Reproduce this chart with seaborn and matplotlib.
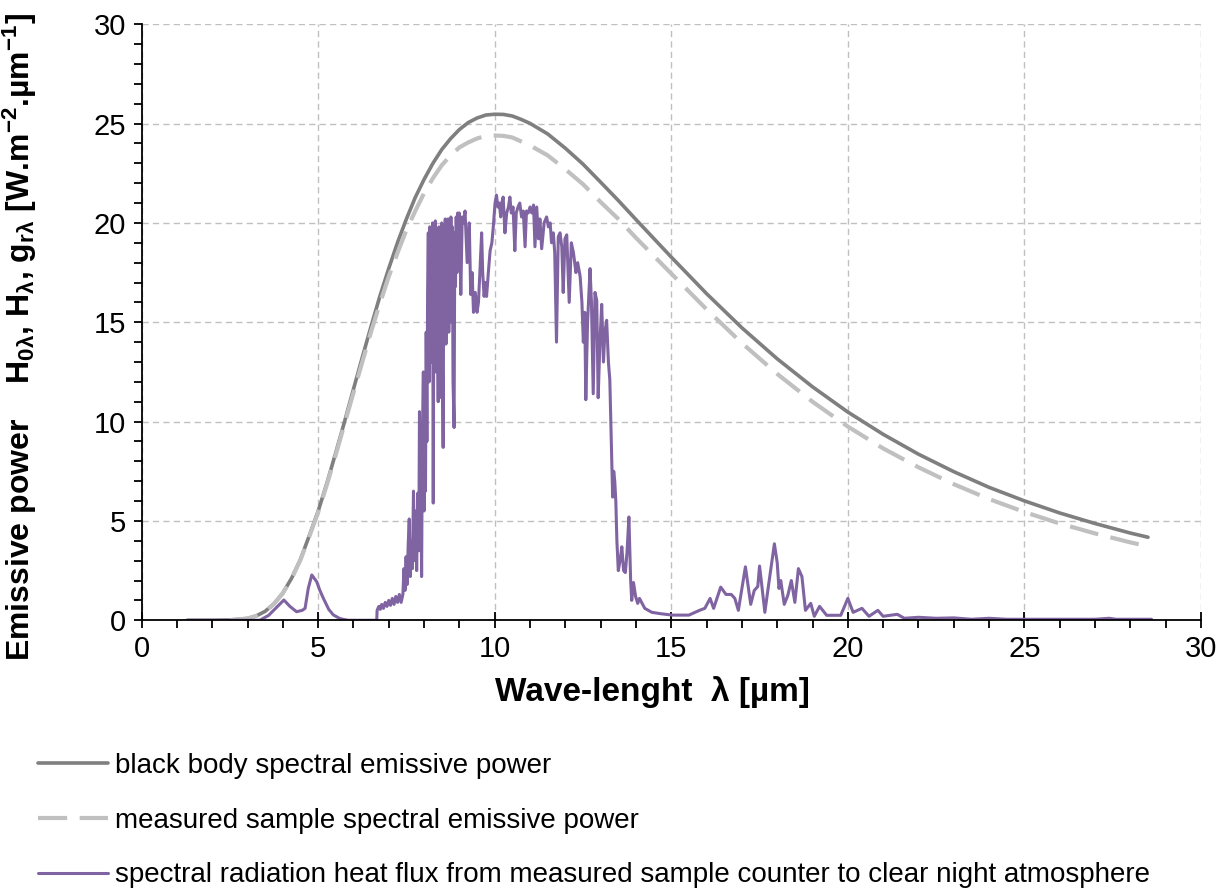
import numpy as np
import matplotlib
matplotlib.use("Agg")
import matplotlib.pyplot as plt
import seaborn as sns
from matplotlib.ticker import MultipleLocator

# -------------------------------
# Datos
# -------------------------------
bb_x = [1.3, 2, 2.5, 3, 3.25, 3.5, 3.75, 4, 4.25, 4.5, 4.75, 5, 5.25, 5.5, 5.75, 6, 6.25,
        6.5, 6.75, 7, 7.25, 7.5, 7.75, 8, 8.25, 8.5, 8.75, 9, 9.25, 9.5, 9.75, 10, 10.25,
        10.5, 10.75, 11, 11.5, 12, 12.5, 13, 13.5, 14, 15, 16, 17, 18, 19, 20, 21, 22, 23,
        24, 25, 26, 27, 28, 28.5]
# black body spectral emissive power
bb_y = [0.0, 0.0, 0.01, 0.09, 0.22, 0.45, 0.83, 1.37, 2.12, 3.07, 4.26, 5.49, 6.91, 8.44,
        10.01, 11.63, 13.23, 14.80, 16.32, 17.71, 19.02, 20.2, 21.28, 22.19, 23.0, 23.69,
        24.24, 24.70, 25.05, 25.28, 25.43, 25.47, 25.46, 25.38, 25.21, 25.01, 24.48, 23.76,
        22.96, 22.05, 21.13, 20.17, 18.28, 16.44, 14.72, 13.16, 11.75, 10.48, 9.36, 8.36,
        7.48, 6.69, 6.01, 5.40, 4.87, 4.39, 4.18]
# measured sample spectral emissive power
ms_y = [0.0, 0.0, 0.01, 0.09, 0.22, 0.45, 0.82, 1.36, 2.1, 3.04, 4.22, 5.43, 6.84, 8.33,
        9.9, 11.45, 13.0, 14.53, 15.95, 17.3, 18.5, 19.65, 20.6, 21.5, 22.25, 22.9,
        23.4, 23.8, 24.05, 24.25, 24.38, 24.4, 24.38, 24.3, 24.1, 23.9, 23.4, 22.7,
        21.95, 21.05, 20.2, 19.25, 17.45, 15.65, 13.95, 12.4, 11.0, 9.75, 8.65, 7.7,
        6.85, 6.1, 5.45, 4.87, 4.37, 3.92, 3.72]

# spectral radiation heat flux (sample -> clear night sky)
rf_x = [1.28, 3.35, 3.6, 3.85, 4.03, 4.2, 4.39, 4.55, 4.63, 4.72, 4.82, 4.96, 5.05, 5.15,
        5.3, 5.43, 5.6, 5.7, 5.85, 6.66,
        6.67, 6.72, 6.76, 6.80, 6.85, 6.90, 6.95, 7.00, 7.05, 7.10, 7.15, 7.20, 7.25, 7.30, 7.35,
        7.40, 7.43, 7.46, 7.49, 7.52, 7.55, 7.58, 7.61, 7.64, 7.67, 7.70, 7.73, 7.76, 7.79,
        7.82, 7.85, 7.87, 7.89, 7.91, 7.93, 7.95, 7.98, 8.00, 8.02, 8.04, 8.06, 8.08, 8.10,
        8.12, 8.14, 8.16, 8.18, 8.20, 8.22, 8.24, 8.26, 8.28, 8.30, 8.32, 8.34, 8.36, 8.38,
        8.40, 8.42, 8.44, 8.46, 8.48, 8.50, 8.52, 8.54, 8.56, 8.58, 8.60, 8.62, 8.64, 8.66,
        8.68, 8.70, 8.72, 8.74, 8.76, 8.78, 8.80, 8.82, 8.85, 8.87, 8.89, 8.91, 8.93, 8.95,
        8.97, 9.00, 9.04, 9.08, 9.12, 9.16, 9.22, 9.28, 9.32, 9.36, 9.40, 9.45, 9.50, 9.54,
        9.58, 9.63, 9.66, 9.70, 9.74, 9.77, 9.82, 9.87, 9.92, 9.96, 10.01, 10.05, 10.09,
        10.13, 10.17, 10.20, 10.24, 10.29, 10.34, 10.39, 10.43, 10.47, 10.52, 10.57, 10.61,
        10.66, 10.71, 10.76, 10.81, 10.86, 10.90, 10.95, 11.00, 11.05, 11.10, 11.14, 11.19,
        11.24, 11.28, 11.33, 11.40, 11.47, 11.52, 11.57, 11.61, 11.66, 11.70, 11.75, 11.80,
        11.85, 11.90, 11.94, 11.99, 12.04, 12.11, 12.17, 12.23, 12.30, 12.35, 12.42, 12.47,
        12.51, 12.55, 12.58, 12.63, 12.70, 12.74, 12.79, 12.84, 12.89, 12.93, 12.98, 13.03,
        13.08, 13.12, 13.17, 13.22, 13.26, 13.29, 13.31, 13.34, 13.37, 13.40, 13.43, 13.46,
        13.50, 13.55, 13.60, 13.65, 13.70, 13.75, 13.80, 13.85, 13.88, 13.93, 13.99, 14.05,
        14.10, 14.25, 14.45, 14.70, 15.03, 15.5, 15.8, 15.95, 16.1, 16.2, 16.4, 16.55, 16.7,
        16.8, 16.9, 17.1, 17.25, 17.35, 17.45, 17.5, 17.55, 17.65, 17.75, 17.92, 18.0, 18.05,
        18.1, 18.2, 18.3, 18.4, 18.5, 18.6, 18.7, 18.8, 18.95, 19.05, 19.2, 19.4, 19.8, 20.0,
        20.15, 20.4, 20.6, 20.85, 21.0, 21.4, 21.6, 22.0, 22.5, 23.0, 23.5, 24.0, 24.5, 25.0,
        26.0, 27.0, 27.4, 27.6, 28.6]
rf_y = [0.0, 0.0, 0.25, 0.7, 1.02, 0.7, 0.43, 0.5, 0.6, 1.6, 2.28, 1.94, 1.5, 1.1,
        0.55, 0.27, 0.1, 0.05, 0.0, 0.0,
        0.5, 0.7, 0.55, 0.8, 0.6, 0.9, 0.7, 1.0, 0.75, 1.1, 0.8, 1.2, 0.9, 1.3, 0.9,
        1.3, 2.6, 1.5, 3.2, 1.8, 3.8, 5.1, 2.2, 4.0, 2.6, 6.5, 3.0, 5.5, 2.5,
        6.4, 3.5, 10.5, 4.0, 7.0, 2.2, 9.0, 12.5, 5.5, 10.0, 6.5, 14.5, 9.0, 16.5,
        19.5, 12.0, 19.8, 14.5, 19.5, 13.0, 20.0, 5.9, 19.6, 14.0, 20.1, 12.5, 19.7, 15.0,
        11.0, 19.8, 11.2, 19.5, 14.0, 20.0, 13.0, 8.7, 19.6, 14.5, 20.2, 13.9, 19.8, 16.0,
        20.2, 14.5, 20.0, 16.5, 20.3, 15.0, 19.8, 12.0, 9.7, 19.5, 16.8, 20.3, 17.5, 20.5,
        18.0, 20.5, 16.4, 20.3, 20.0, 20.6, 18.0, 20.0, 16.4, 17.5, 15.5, 16.5, 15.5, 16.0,
        17.5, 19.5, 17.5, 16.3, 17.0, 16.3, 17.5, 18.6, 19.0, 19.8, 21.0, 21.4, 20.8,
        21.0, 20.3, 21.0, 21.3, 19.5, 20.5, 20.8, 21.3, 20.5, 20.8, 18.6, 20.5,
        20.8, 21.0, 20.3, 20.6, 18.8, 20.6, 20.5, 20.8, 20.5, 20.9, 18.8, 20.8,
        19.2, 20.2, 18.7, 20.0, 20.3, 19.8, 20.0, 19.0, 19.5, 18.5, 14.0, 19.3,
        19.5, 18.8, 16.5, 19.2, 19.4, 16.0, 19.0, 18.5, 17.5, 18.0, 17.3, 16.0,
        14.0, 15.5, 11.1, 15.0, 17.7, 16.0, 11.4, 16.5, 16.1, 11.2, 14.0, 15.9,
        13.0, 14.5, 15.1, 13.0, 12.1, 10.0, 8.4, 6.2, 7.5, 7.0, 6.0, 4.0,
        2.5, 3.0, 3.7, 2.5, 2.4, 3.5, 5.2, 2.0, 1.0, 1.9, 1.2, 0.85,
        1.1, 0.6, 0.4, 0.33, 0.26, 0.26, 0.5, 0.6, 1.1, 0.6, 1.67, 1.3, 1.3,
        1.1, 0.5, 2.69, 0.8, 1.5, 1.7, 2.73, 1.97, 0.4, 1.7, 3.85, 2.9, 1.6,
        2.0, 0.8, 1.25, 2.0, 0.9, 2.6, 2.2, 0.5, 0.85, 0.2, 0.7, 0.25, 0.25, 1.1,
        0.4, 0.6, 0.2, 0.5, 0.2, 0.3, 0.1, 0.15, 0.1, 0.12, 0.05, 0.1, 0.05, 0.05,
        0.05, 0.05, 0.1, 0.05, 0.05]

labels = [
    "black body spectral emissive power",
    "measured sample spectral emissive power",
    "spectral radiation heat flux from measured sample counter to clear night atmosphere",
]

# -------------------------------
# Estilo
# -------------------------------
sns.set_style("ticks")
plt.rcParams["font.family"] = ["Liberation Sans", "DejaVu Sans"]
plt.rcParams["mathtext.fontset"] = "custom"
plt.rcParams["mathtext.rm"] = "Liberation Sans:bold"
plt.rcParams["mathtext.it"] = "Liberation Sans:bold"
plt.rcParams["mathtext.bf"] = "Liberation Sans:bold"
plt.rcParams["mathtext.default"] = "rm"
plt.rcParams["text.color"] = "black"
plt.rcParams["axes.labelcolor"] = "black"
plt.rcParams["xtick.color"] = "black"
plt.rcParams["ytick.color"] = "black"

fig = plt.figure(figsize=(12.31, 8.88), dpi=100)
ax = fig.add_axes([0.115, 0.3015, 0.8606, 0.6712])

sns.lineplot(x=bb_x, y=bb_y, ax=ax, color="#7F7F7F", linewidth=2.6,
             estimator=None, sort=False, label=labels[0])
sns.lineplot(x=bb_x, y=ms_y, ax=ax, color="#C0C0C0", linewidth=3.0,
             estimator=None, sort=False, label=labels[1])
ax.lines[-1].set_dashes([7, 3])
sns.lineplot(x=rf_x, y=rf_y, ax=ax, color="#8064A2", linewidth=2.2,
             estimator=None, sort=False, label=labels[2])

ax.set_xlim(0, 30)
ax.set_ylim(0, 30)
ax.xaxis.set_major_locator(MultipleLocator(5))
ax.yaxis.set_major_locator(MultipleLocator(5))
ax.xaxis.set_minor_locator(MultipleLocator(1))
ax.yaxis.set_minor_locator(MultipleLocator(1))
ax.grid(True, which="major", color="#C0C0C0", linestyle=(0, (4.5, 3)), linewidth=1)
ax.set_axisbelow(True)

for s in ["top", "right"]:
    ax.spines[s].set_visible(False)
for s in ["left", "bottom"]:
    ax.spines[s].set_color("black")
    ax.spines[s].set_linewidth(1.3)

ax.tick_params(axis="x", which="major", direction="inout", length=11, width=1.3,
               labelsize=21, pad=5)
ax.tick_params(axis="x", which="minor", direction="out", length=6, width=1.3)
ax.tick_params(axis="y", which="both", direction="out", length=6, width=1.3)
ax.tick_params(axis="y", which="major", labelsize=21, pad=5)

ax.set_xlabel("Wave-lenght  λ [µm]", fontsize=24, fontweight="bold")
ax.xaxis.set_label_coords(0.482, -0.093)
ax.set_ylabel("Emissive power    H$_{0\\lambda}$, H$_{\\lambda}$, g$_{r\\lambda}$ "
              "[W.m$^{-2}$.µm$^{-1}$]", fontsize=23, fontweight="bold")
ax.yaxis.set_label_coords(-0.097, 0.475)

handles, labs = ax.get_legend_handles_labels()
ax.get_legend().remove()
fig.legend(handles, labs, loc="upper left", bbox_to_anchor=(0.031, 0.152),
           frameon=False, fontsize=20, handlelength=2.5, handletextpad=0.25,
           labelspacing=1.03, borderpad=0, borderaxespad=0)

fig.savefig("out.png", dpi=100)
